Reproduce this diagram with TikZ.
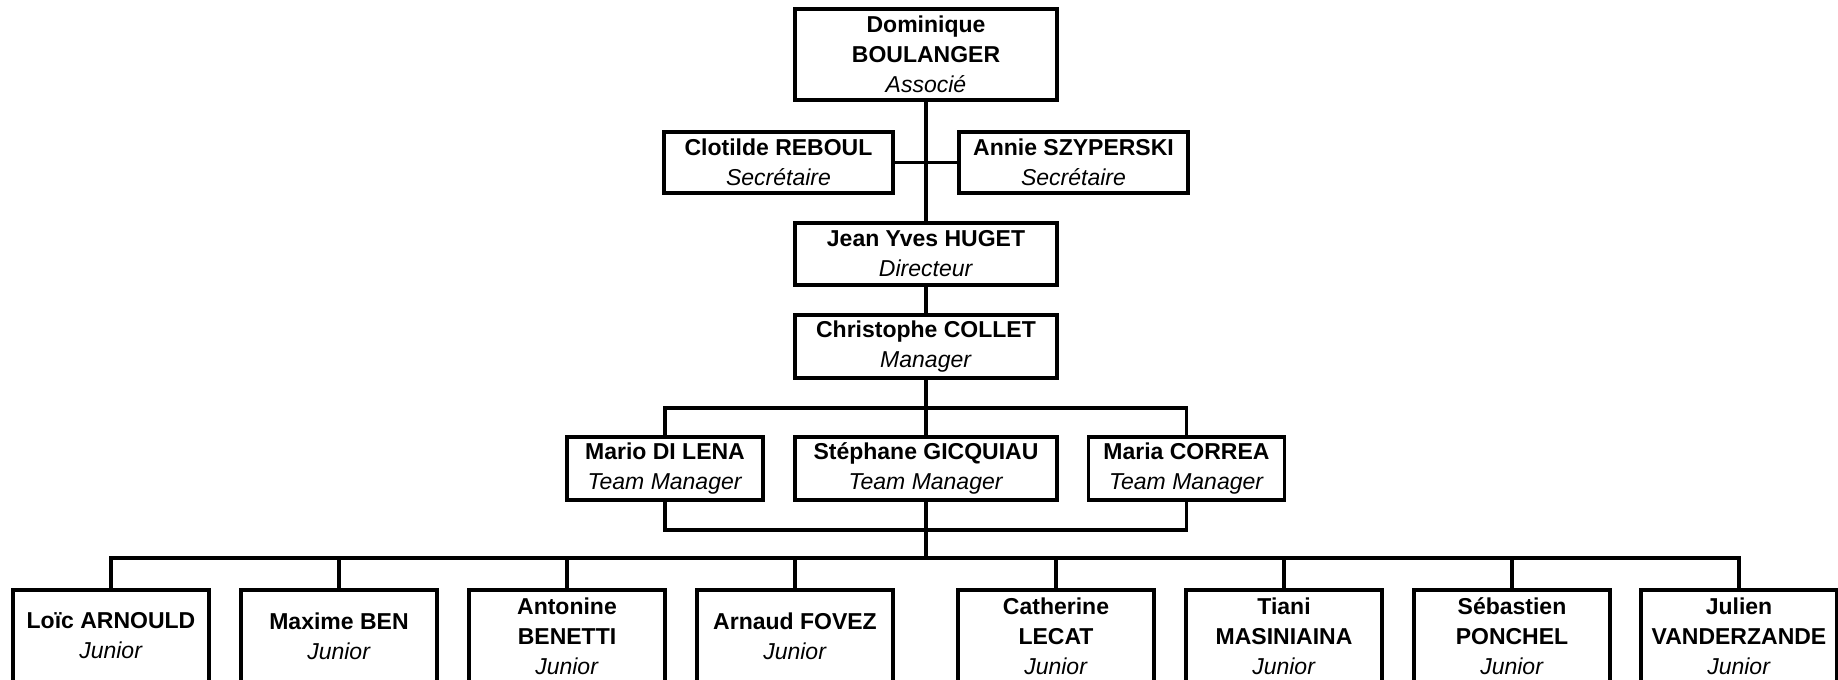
\documentclass[tikz,border=0pt]{standalone}
\usepackage{fontspec}
\setmainfont{Liberation Sans}
\begin{document}
\begin{tikzpicture}[x=0.5pt,y=-0.5pt,
  box/.style={draw, line width=1.6pt, inner sep=0pt, align=center, fill=white,
              font=\fontsize{11.5}{15}\selectfont},
  bigbox/.style={box, minimum width=131pt},
  secbox/.style={box, minimum width=114.5pt, minimum height=30.5pt},
  tmbox/.style={box, minimum width=98pt, minimum height=31.5pt},
  jrbox/.style={box, minimum width=98pt, minimum height=46pt},
  link/.style={line width=1.6pt}]
\useasboundingbox (0,0) rectangle (1838,680);
\clip (0,0) rectangle (1838,680);

% connectors first
\coordinate (tmtop) at (926,408);
\coordinate (tmbot) at (926,530);
\coordinate (bus) at (926,558);

% nodes
\node[bigbox, minimum height=45.5pt] (dom) at (926,54.5) {\textbf{Dominique}\\\textbf{BOULANGER}\\\textit{Associé}};
\node[secbox] (clo) at (778.5,162.5) {\textbf{Clotilde REBOUL}\\\textit{Secrétaire}};
\node[secbox] (ann) at (1073.5,162.5) {\textbf{Annie SZYPERSKI}\\\textit{Secrétaire}};
\node[bigbox, minimum height=31pt] (jyh) at (926,254) {\textbf{Jean Yves HUGET}\\\textit{Directeur}};
\node[bigbox, minimum height=31.5pt] (col) at (926,346.5) {\textbf{Christophe COLLET}\\\textit{Manager}};
\node[tmbox] (mar) at (665,468.5) {\textbf{Mario DI LENA}\\\textit{Team Manager}};
\node[bigbox, minimum height=31.5pt] (ste) at (926,468.5) {\textbf{Stéphane GICQUIAU}\\\textit{Team Manager}};
\node[tmbox] (cor) at (1186.5,468.5) {\textbf{Maria CORREA}\\\textit{Team Manager}};

\node[jrbox] (j1) at (111,636) {\textbf{Loïc ARNOULD}\\\textit{Junior}};
\node[jrbox] (j2) at (339,636) {\textbf{Maxime BEN}\\\textit{Junior}};
\node[jrbox] (j3) at (567,636) {\textbf{Antonine}\\\textbf{BENETTI}\\\textit{Junior}};
\node[jrbox] (j4) at (795,636) {\textbf{Arnaud FOVEZ}\\\textit{Junior}};
\node[jrbox] (j5) at (1056,636) {\textbf{Catherine}\\\textbf{LECAT}\\\textit{Junior}};
\node[jrbox] (j6) at (1284,636) {\textbf{Tiani}\\\textbf{MASINIAINA}\\\textit{Junior}};
\node[jrbox] (j7) at (1512,636) {\textbf{Sébastien}\\\textbf{PONCHEL}\\\textit{Junior}};
\node[jrbox] (j8) at (1739,636) {\textbf{Julien}\\\textbf{VANDERZANDE}\\\textit{Junior}};

% connectors
\draw[link] (dom.south) -- (jyh.north);
\draw[link] (clo.east) -- (ann.west);
\draw[link] (jyh.south) -- (col.north);
\draw[link] (mar.north) |- (tmtop) -| (cor.north);
\draw[link] (col.south) -- (ste.north);
\draw[link] (mar.south) |- (tmbot) -| (cor.south);
\draw[link] (ste.south) -- (bus);
\draw[link] (j1.north) |- (bus) -| (j8.north);
\foreach \j in {j2,j3,j4,j5,j6,j7} {
  \draw[link] (\j.north) -- (\j.north |- bus);
}
\end{tikzpicture}
\end{document}
